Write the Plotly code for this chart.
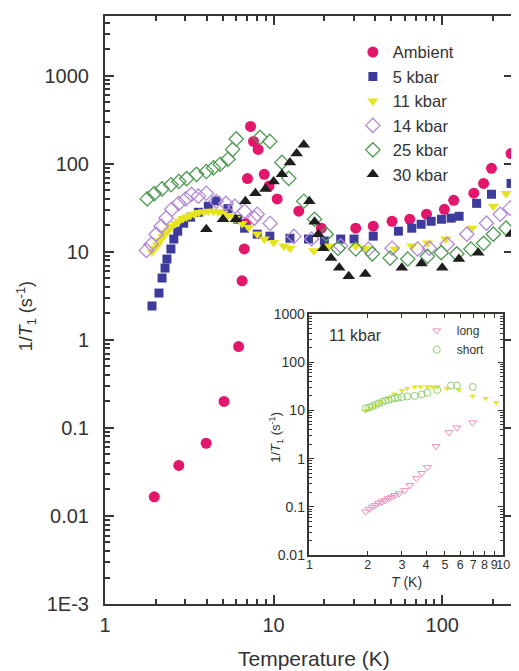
import plotly.graph_objects as go

# ---------------- main data ----------------
T_amb = [1.96, 2.74, 3.98, 5.08, 6.2, 6.5, 6.7, 6.85, 7.0, 7.3, 7.6, 8.1, 8.8, 9.4, 10.5, 14.1, 19.2, 30.7, 39, 50.4, 64.2, 80.7, 103, 117, 154, 176, 196, 256]
v_amb = [0.0165, 0.0375, 0.067, 0.2, 0.84, 4.7, 10.8, 21, 68, 266, 180, 146, 76, 56, 40, 29, 18.6, 18.6, 19.6, 22.3, 23.5, 26.8, 30.5, 38.6, 46.4, 60, 89, 131]

T_5 = [1.9, 2.09, 2.18, 2.27, 2.33, 2.46, 2.56, 2.70, 2.93, 3.22, 3.58, 4.10, 4.56, 5.36, 6.13, 6.73, 8.0, 9.5, 12.5, 16.1, 20, 25, 30, 39, 55, 66, 75, 86, 99, 113, 126, 160, 196, 256]
v_5 = [2.43, 3.41, 5.05, 6.55, 8.3, 10.8, 14.0, 17.2, 21.2, 24.8, 28.2, 33, 38, 31, 23.5, 18.6, 15.9, 15.1, 14.3, 14.0, 13.3, 14, 14, 15.1, 17.2, 18.6, 20.6, 22.3, 23.5, 24.2, 25.4, 35.6, 45.2, 60]

T_11 = [1.9, 1.97, 2.05, 2.13, 2.2, 2.3, 2.4, 2.5, 2.62, 2.75, 2.9, 3.05, 3.2, 3.4, 3.6, 3.85, 4.1, 4.4, 4.7, 5.0, 5.4, 5.9, 6.5, 7.1, 8.0, 8.8, 10, 11.5, 12.5, 17.3, 21.4, 30.7, 35, 52.5, 66, 82, 105, 150, 201, 239]
v_11 = [10, 11, 12, 13.5, 15, 16.5, 18, 19.5, 21, 22.5, 24, 25, 26, 27, 28, 28.5, 29, 29, 28.5, 27.5, 26, 24, 21, 19, 16, 14, 12.8, 11.7, 11, 10.3, 11.7, 11.7, 11, 10.8, 11.7, 12.6, 14, 18.6, 33, 46]

T_14 = [1.76, 1.88, 2.01, 2.15, 2.30, 2.49, 2.74, 3.01, 3.26, 3.58, 3.99, 4.56, 5.21, 5.89, 6.73, 7.7, 8.0, 9.54, 13.2, 16.8, 25, 36.5, 50.4, 71.5, 84, 107, 140, 183, 221, 253]
v_14 = [10.4, 12.2, 15.9, 19.6, 24.2, 30.5, 35.6, 40, 45, 43, 46.4, 37.6, 35.6, 33, 29, 24.2, 26.8, 21, 15, 14, 11.7, 10.8, 11, 10.8, 11, 12.2, 15.9, 21.2, 26.8, 31.4]

T_25 = [1.78, 1.96, 2.18, 2.46, 2.74, 3.05, 3.49, 3.99, 4.4, 4.82, 5.36, 5.72, 6.0, 8.3, 9.5, 11.2, 12.3, 15.1, 17.5, 20.5, 24.1, 30.7, 38.5, 49.1, 62.5, 81.7, 98.6, 122, 148, 176, 201, 239]
v_25 = [40, 46, 52, 58, 63, 68, 76, 82, 90, 99, 113, 146, 192, 200, 180, 104, 68.5, 37.6, 23.5, 15.9, 11, 10.8, 9.5, 8.5, 8.3, 8.9, 9.8, 9.5, 10.8, 12.5, 15.9, 18.6]

T_30 = [3.99, 5.01, 5.97, 6.8, 7.8, 8.95, 10, 11.2, 12.5, 13.7, 15.1, 16.3, 17.5, 18.4, 19.7, 21.9, 24.5, 27.9, 35, 57.6, 75.4, 100, 125.6, 163.6, 256]
v_30 = [18.1, 23.5, 23.5, 37.6, 46.4, 52, 63, 76, 104, 131, 165, 37.6, 22, 15.9, 11, 8.5, 6.6, 5.3, 5.6, 6.6, 7.4, 6.6, 8.3, 9.8, 16]

# ---------------- inset data (11 kbar) ----------------
T_long = [1.95, 2.03, 2.11, 2.19, 2.28, 2.37, 2.46, 2.56, 2.66, 2.76, 2.9, 3.1, 3.3, 3.57, 3.8, 4.06, 4.5, 5.26, 5.77, 6.96]
v_long = [0.08, 0.09, 0.1, 0.108, 0.12, 0.128, 0.137, 0.15, 0.16, 0.174, 0.19, 0.22, 0.28, 0.39, 0.5, 0.66, 1.8, 3.5, 4.4, 5.6]

T_short = [1.95, 2.03, 2.11, 2.19, 2.28, 2.37, 2.46, 2.56, 2.66, 2.76, 2.86, 3.0, 3.2, 3.49, 3.8, 4.06, 4.57, 5.38, 5.77, 6.96]
v_short = [11, 11.5, 12.3, 13, 14, 15, 15.9, 16.5, 17.5, 18, 18.4, 19, 19.5, 20, 21.5, 23.3, 26.6, 32.8, 32.8, 30.7]

T_in11 = [1.95, 2.05, 2.19, 2.35, 2.55, 2.75, 3.0, 3.2, 3.49, 3.75, 4.06, 4.3, 4.57, 5.13, 5.91, 6.96, 8.1, 9.21]
v_in11 = [10, 11, 12.6, 15, 18, 22, 26, 28.5, 30.7, 31, 31, 31, 31, 29, 26.6, 20, 17.6, 14.6]

# tick labels
main_y_vals = [0.001, 0.01, 0.1, 1, 10, 100, 1000]
main_y_text = ["1E-3", "0.01", "0.1", "1", "10", "100", "1000"]
main_x_vals = [1, 10, 100]
main_x_text = ["1", "10", "100"]
in_y_vals = [0.01, 0.1, 1, 10, 100, 1000]
in_y_text = ["0.01", "0.1", "1", "10", "100", "1000"]
in_x_vals = [1, 2, 3, 4, 5, 6, 7, 8, 9, 10]
in_x_text = ["1", "2", "3", "4", "5", "6", "7", "8", "9", "10"]

FONT = "Liberation Sans, Arial, sans-serif"
AX = "#3b3532"
TXT = "#333333"

def minors(lo, hi):
    out = []
    for e in range(lo, hi):
        for m in range(2, 10):
            out.append(m * 10 ** e)
    return out

fig = go.Figure()

def main_trace(x, y, name, symbol, color, size, lw=0):
    marker = dict(symbol=symbol, color=color, size=size, line=dict(width=lw, color=color))
    fig.add_trace(go.Scatter(x=x, y=y, mode="markers", name=name, marker=marker,
                             xaxis="x", yaxis="y", legend="legend"))

main_trace(T_amb, v_amb, "Ambient", "circle", "#e2176c", 11)
main_trace(T_5, v_5, "5 kbar", "square", "#3d3c9c", 9)
main_trace(T_11, v_11, "11 kbar", "triangle-down", "#e6e420", 10)
main_trace(T_14, v_14, "14 kbar", "diamond-open", "#b48ad6", 11, lw=1.3)
main_trace(T_25, v_25, "25 kbar", "diamond-open", "#4f9a52", 11, lw=1.3)
main_trace(T_30, v_30, "30 kbar", "triangle-up", "#1e1e1e", 11)

# helper trace for right-side mirrored ticks
fig.add_trace(go.Scatter(x=[], y=[], xaxis="x", yaxis="y3", showlegend=False, hoverinfo="skip"))

# inset traces
fig.add_trace(go.Scatter(x=T_in11, y=v_in11, mode="markers", showlegend=False,
                         marker=dict(symbol="triangle-down", color="#e4e63a", size=6),
                         xaxis="x2", yaxis="y2"))
fig.add_trace(go.Scatter(x=T_short, y=v_short, mode="markers", name="short",
                         marker=dict(symbol="circle-open", color="#92d070", size=7, line=dict(width=1)),
                         xaxis="x2", yaxis="y2", legend="legend2"))
fig.add_trace(go.Scatter(x=T_long, y=v_long, mode="markers", name="long",
                         marker=dict(symbol="triangle-down-open", color="#f08cbc", size=7, line=dict(width=1)),
                         xaxis="x2", yaxis="y2", legend="legend2"))

def common(size):
    return dict(showgrid=False, zeroline=False, type="log", linecolor=AX, tickcolor=AX,
                tickfont=dict(family=FONT, color=TXT, size=size), tickangle=0)

fig.update_layout(
    width=511, height=663,
    margin=dict(l=97, r=0, t=6, b=67),
    paper_bgcolor="white", plot_bgcolor="white",
    font=dict(family=FONT, color=TXT),
    xaxis=dict(**common(20), range=[0, 2.414], showline=True, linewidth=2, mirror="ticks",
               ticks="inside", ticklen=9, tickwidth=1.5,
               tickmode="array", tickvals=main_x_vals, ticktext=main_x_text,
               ticklabelstandoff=2,
               minor=dict(tickmode="array", tickvals=minors(0, 3), ticks="inside", ticklen=5,
                          tickwidth=1.5, tickcolor=AX, showgrid=False)),
    yaxis=dict(**common(20), range=[-3, 3.68], showline=True, linewidth=2, mirror=False,
               ticks="inside", ticklen=9, tickwidth=1.5,
               tickmode="array", tickvals=main_y_vals, ticktext=main_y_text,
               ticklabelstandoff=10,
               minor=dict(tickmode="array", tickvals=minors(-3, 4), ticks="inside", ticklen=5,
                          tickwidth=1.5, tickcolor=AX, showgrid=False)),
    yaxis3=dict(**common(20), range=[-3, 3.68], overlaying="y", side="right", anchor="x",
                showline=False, ticks="inside", ticklen=8, tickwidth=1.5,
                tickmode="array", tickvals=main_y_vals, showticklabels=False),
    xaxis2=dict(**common(12.5), domain=[0.5024, 0.9783], anchor="y2", range=[0, 1],
                showline=True, linewidth=1.5, mirror="ticks", ticks="inside", ticklen=4, tickwidth=1,
                tickmode="array", tickvals=in_x_vals, ticktext=in_x_text, ticklabelstandoff=-3),
    yaxis2=dict(**common(14), domain=[0.0831, 0.4932], anchor="x2", range=[-2, 3],
                showline=True, linewidth=1.5, mirror="ticks", ticks="inside", ticklen=5, tickwidth=1,
                tickmode="array", tickvals=in_y_vals, ticktext=in_y_text, ticklabelstandoff=0,
                minor=dict(tickmode="array", tickvals=minors(-2, 3), ticks="inside", ticklen=3,
                           tickwidth=1, tickcolor=AX, showgrid=False)),
    legend=dict(x=0.609, y=0.968, xanchor="left", yanchor="top", bgcolor="rgba(0,0,0,0)",
                font=dict(family=FONT, size=16.5, color=TXT), tracegroupgap=0),
    legend2=dict(x=0.766, y=0.4895, xanchor="left", yanchor="top", bgcolor="rgba(0,0,0,0)",
                 font=dict(family=FONT, size=12, color=TXT), traceorder="reversed"),
)

fig.add_annotation(text="1/<i>T</i><sub>1</sub> (s<sup>-1</sup>)", xref="paper", yref="paper",
                   x=-0.193, y=0.49, textangle=-90, showarrow=False,
                   font=dict(family=FONT, size=18, color=TXT), xanchor="center", yanchor="middle")
fig.add_annotation(text="Temperature (K)", xref="paper", yref="paper",
                   x=0.5145, y=-0.093, showarrow=False,
                   font=dict(family=FONT, size=21, color=TXT), xanchor="center", yanchor="middle")
fig.add_annotation(text="1/<i>T</i><sub>1</sub> (s<sup>-1</sup>)", xref="paper", yref="paper",
                   x=0.418, y=0.283, textangle=-90, showarrow=False,
                   font=dict(family=FONT, size=13, color=TXT), xanchor="center", yanchor="middle")
fig.add_annotation(text="<i>T</i> (K)", xref="paper", yref="paper",
                   x=0.7415, y=0.038, showarrow=False,
                   font=dict(family=FONT, size=14, color=TXT), xanchor="center", yanchor="middle")
fig.add_annotation(text="11 kbar", xref="paper", yref="paper",
                   x=0.616, y=0.456, showarrow=False,
                   font=dict(family=FONT, size=16, color=TXT), xanchor="center", yanchor="middle")

fig.write_html("out.html")
